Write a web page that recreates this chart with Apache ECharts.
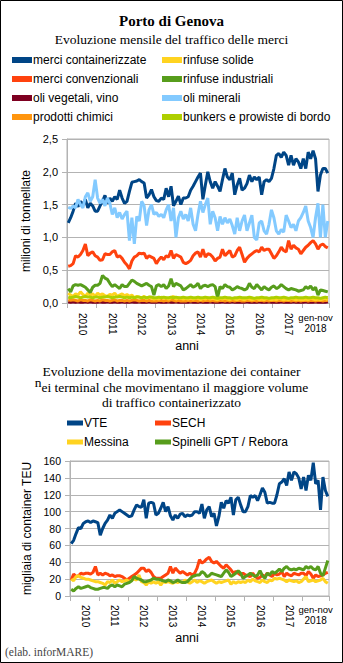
<!DOCTYPE html>
<html><head><meta charset="utf-8">
<script src="https://cdn.jsdelivr.net/npm/echarts@6/dist/echarts.min.js"></script>
<style>html,body{margin:0;padding:0;background:#fff}#c{width:343px;height:663px}</style>
</head><body><div id="c"></div>
<script>
// ---- tick labels ----
const yearLabels = ['2010','2011','2012','2013','2014','2015','2016','2017','gen-nov\n2018'];
const months = [];
for (let y = 2010; y <= 2018; y++) for (let m = 1; m <= 12; m++) { if (y === 2018 && m === 12) break; months.push(y + '-' + (m < 10 ? '0' + m : m)); }

// ---- top chart: milioni di tonnellate (gen 2010 - nov 2018) ----
const merciContainerizzate = [
1.22,1.30,1.40,1.52,1.47,1.55,1.50,1.58,1.45,1.52,1.48,1.40,
1.40,1.48,1.55,1.64,1.52,1.60,1.55,1.62,1.58,1.72,1.60,1.52,
1.55,1.70,1.84,1.85,1.86,1.88,1.85,1.83,1.60,1.65,1.73,1.62,
1.56,1.55,1.60,1.58,1.75,1.62,1.78,1.48,1.55,1.63,1.50,1.60,
1.60,1.62,1.72,1.78,1.85,1.92,1.98,1.58,1.80,2.00,1.85,1.75,
1.85,1.78,1.70,1.88,2.05,1.92,1.88,1.98,1.65,1.80,1.90,1.72,
1.75,1.82,1.95,1.85,1.92,1.88,1.92,1.65,1.85,1.88,1.85,1.90,
2.05,2.25,2.28,2.22,2.30,2.25,2.10,2.25,2.10,2.20,2.15,2.05,
2.20,2.05,2.30,2.20,2.32,2.20,1.70,1.95,2.05,2.05,1.98];
const merciConvenzionali = [
0.56,0.57,0.60,0.72,0.70,0.74,0.80,0.90,0.72,0.76,0.78,0.72,
0.70,0.65,0.66,0.75,0.74,0.74,0.78,0.80,0.70,0.72,0.68,0.62,
0.58,0.52,0.64,0.70,0.72,0.76,0.75,0.76,0.68,0.72,0.70,0.68,
0.60,0.66,0.70,0.66,0.72,0.70,0.80,0.68,0.74,0.72,0.70,0.62,
0.60,0.62,0.65,0.72,0.76,0.78,0.70,0.82,0.70,0.75,0.74,0.70,
0.64,0.68,0.70,0.82,0.72,0.76,0.80,0.70,0.72,0.80,0.85,0.74,
0.62,0.68,0.72,0.75,0.78,0.80,0.78,0.85,0.80,0.82,0.82,0.75,
0.68,0.72,0.78,0.85,0.80,0.78,0.95,0.82,0.88,0.84,0.82,0.75,
0.80,0.85,0.88,0.92,0.95,0.90,0.82,0.88,0.90,0.86,0.84];
const oliVegetali = [
0.02,0.01,0.02,0.01,0.02,0.01,0.01,0.02,0.01,0.02,0.01,0.01,
0.01,0.02,0.01,0.01,0.02,0.01,0.01,0.02,0.01,0.01,0.02,0.01,
0.01,0.01,0.02,0.01,0.01,0.02,0.01,0.01,0.01,0.02,0.01,0.01,
0.01,0.02,0.01,0.01,0.01,0.02,0.01,0.01,0.02,0.01,0.01,0.01,
0.01,0.01,0.02,0.01,0.01,0.01,0.02,0.01,0.01,0.01,0.02,0.01,
0.01,0.01,0.01,0.02,0.01,0.01,0.01,0.02,0.01,0.01,0.01,0.01,
0.01,0.02,0.01,0.01,0.01,0.01,0.02,0.01,0.01,0.01,0.02,0.01,
0.01,0.01,0.01,0.02,0.01,0.01,0.01,0.01,0.02,0.01,0.01,0.01,
0.01,0.02,0.01,0.01,0.01,0.02,0.01,0.01,0.01,0.01,0.02];
const prodottiChimici = [
0.05,0.04,0.05,0.04,0.03,0.05,0.04,0.04,0.03,0.05,0.04,0.03,
0.04,0.03,0.05,0.04,0.04,0.03,0.04,0.05,0.03,0.04,0.04,0.03,
0.04,0.03,0.04,0.05,0.04,0.03,0.04,0.04,0.03,0.04,0.03,0.03,
0.03,0.04,0.04,0.03,0.04,0.03,0.05,0.04,0.03,0.04,0.03,0.03,
0.03,0.04,0.03,0.04,0.04,0.03,0.04,0.03,0.04,0.04,0.03,0.04,
0.03,0.03,0.04,0.04,0.03,0.04,0.03,0.04,0.03,0.04,0.04,0.03,
0.03,0.04,0.04,0.03,0.04,0.03,0.04,0.04,0.03,0.04,0.03,0.04,
0.04,0.03,0.04,0.04,0.03,0.04,0.04,0.03,0.04,0.03,0.04,0.03,
0.04,0.04,0.03,0.04,0.04,0.03,0.04,0.04,0.03,0.04,0.04];
const rinfuseSolide = [
0.15,0.12,0.10,0.14,0.12,0.17,0.13,0.10,0.15,0.12,0.14,0.10,
0.15,0.12,0.14,0.11,0.10,0.13,0.12,0.15,0.10,0.12,0.14,0.11,
0.13,0.10,0.12,0.08,0.10,0.09,0.08,0.10,0.07,0.09,0.08,0.06,
0.07,0.06,0.09,0.07,0.08,0.06,0.08,0.10,0.06,0.08,0.07,0.06,
0.07,0.06,0.08,0.06,0.07,0.08,0.05,0.07,0.06,0.08,0.06,0.07,
0.06,0.05,0.07,0.06,0.08,0.06,0.05,0.07,0.06,0.05,0.07,0.06,
0.05,0.07,0.06,0.05,0.06,0.07,0.05,0.06,0.05,0.07,0.06,0.05,
0.06,0.05,0.07,0.06,0.05,0.06,0.05,0.07,0.06,0.05,0.06,0.05,
0.05,0.06,0.05,0.07,0.06,0.05,0.06,0.05,0.06,0.07,0.05];
const rinfuseIndustriali = [
0.22,0.17,0.26,0.28,0.27,0.28,0.26,0.24,0.20,0.16,0.24,0.27,
0.27,0.30,0.42,0.38,0.36,0.30,0.25,0.28,0.25,0.22,0.28,0.25,
0.25,0.30,0.35,0.33,0.30,0.28,0.26,0.28,0.30,0.27,0.25,0.12,
0.26,0.28,0.25,0.28,0.22,0.26,0.37,0.25,0.30,0.28,0.26,0.20,
0.22,0.25,0.28,0.24,0.26,0.30,0.22,0.26,0.27,0.25,0.27,0.28,
0.25,0.08,0.25,0.22,0.28,0.25,0.24,0.20,0.22,0.25,0.23,0.22,
0.20,0.22,0.30,0.24,0.22,0.28,0.24,0.20,0.25,0.22,0.20,0.24,
0.26,0.22,0.24,0.28,0.25,0.22,0.20,0.22,0.21,0.20,0.18,0.19,
0.20,0.25,0.22,0.26,0.20,0.24,0.12,0.20,0.19,0.18,0.17];
const oliMinerali = [
1.46,1.44,1.48,1.45,1.58,1.50,1.45,1.62,1.68,1.55,1.62,1.88,
1.60,1.52,1.58,1.48,1.60,1.52,1.35,1.45,1.30,1.38,1.28,1.35,
1.40,0.95,1.30,0.90,1.32,1.25,1.55,1.48,1.18,1.42,1.50,1.35,
1.38,1.32,1.35,1.30,1.42,1.50,1.25,1.45,1.00,1.30,1.40,1.28,
1.35,1.25,1.45,1.20,1.10,1.35,1.55,1.38,1.50,1.60,1.20,1.40,
1.30,1.10,1.32,1.20,1.30,1.22,1.28,1.18,1.05,1.30,1.10,1.25,
1.34,1.10,1.22,1.34,1.00,0.96,1.22,1.25,1.10,1.05,1.20,1.42,
1.30,1.10,1.05,1.12,1.08,1.34,1.25,1.15,1.20,1.10,1.25,1.30,
1.38,1.48,1.25,1.15,1.00,1.30,1.52,1.00,1.50,1.00,1.25];
const bunkers = [
0.09,0.08,0.09,0.10,0.09,0.08,0.09,0.10,0.09,0.09,0.08,0.09,
0.09,0.08,0.09,0.09,0.10,0.09,0.08,0.09,0.09,0.10,0.09,0.08,
0.09,0.08,0.09,0.08,0.09,0.09,0.08,0.09,0.08,0.09,0.09,0.08,
0.08,0.09,0.08,0.09,0.08,0.08,0.09,0.08,0.09,0.08,0.08,0.09,
0.08,0.08,0.09,0.08,0.08,0.09,0.08,0.08,0.09,0.08,0.08,0.09,
0.08,0.07,0.08,0.08,0.09,0.08,0.08,0.07,0.08,0.08,0.09,0.08,
0.08,0.08,0.09,0.08,0.07,0.08,0.08,0.09,0.08,0.08,0.07,0.08,
0.08,0.09,0.08,0.08,0.09,0.08,0.07,0.08,0.08,0.09,0.08,0.08,
0.08,0.09,0.08,0.08,0.09,0.08,0.08,0.07,0.08,0.09,0.08];

// ---- bottom chart: migliaia di TEU ----
const vte = [
62,66,74,81,80,86,88,89,87,89,88,87,
72,80,86,90,96,92,98,100,102,100,98,96,
94,95,102,108,106,105,114,92,110,111,110,96,
98,104,111,100,106,95,90,96,92,97,98,94,
96,95,96,100,100,98,109,92,102,106,94,98,
83,94,111,104,113,110,117,96,114,117,108,100,
100,106,119,117,119,113,120,128,123,110,111,110,
110,120,133,135,139,131,147,137,147,145,140,127,
141,125,143,137,158,133,137,102,141,125,118];
const sech = [
19,26,23,24,27,26,27,27,26,28,35,25,
27,25,27,26,24,25,23,24,24,23,21,19,
21,23,25,27,30,33,33,29,31,28,23,21,
21,21,23,25,27,35,27,33,30,27,29,27,
25,27,25,27,33,43,39,41,44,46,41,39,
41,38,35,33,37,34,31,27,29,27,25,27,
25,24,23,27,23,21,22,25,23,27,25,23,
27,25,26,29,23,27,25,24,27,26,25,27,
27,24,29,26,21,25,23,24,25,27,28];
const messina = [
20,18,23,24,22,21,20,20,19,18,17,17,
16,15,13,17,16,19,15,17,19,17,18,19,
17,19,20,19,25,17,16,13,17,15,17,15,
17,13,17,16,17,16,15,17,16,17,16,19,
17,15,17,19,16,18,17,15,17,18,19,17,
15,17,16,17,18,19,14,17,15,17,16,17,
16,19,17,20,18,17,16,19,17,16,19,18,
21,20,21,20,19,17,19,18,17,18,16,17,
20,23,17,18,19,17,18,19,21,17,15];
const spinelli = [
8,6,9,11,9,10,11,12,10,9,8,8,
9,10,10,9,12,13,11,13,12,11,14,15,
16,18,23,21,20,19,17,17,18,19,21,20,
20,19,18,17,19,18,16,17,19,17,16,16,
17,20,23,24,25,25,29,27,23,24,27,26,
25,24,23,27,31,28,23,25,27,30,27,21,
23,25,27,25,23,25,30,24,21,27,25,29,
27,29,32,29,33,35,32,31,32,31,33,32,
31,35,33,35,32,31,35,27,24,33,42];

const GRAY = '#b3b3b3';
const SANS = '"Liberation Sans", Arial, sans-serif';
const SERIF = '"Liberation Serif", "Times New Roman", serif';

function line(name, data, color, axisIdx) {
  return { name, type: 'line', data, xAxisIndex: axisIdx * 2, yAxisIndex: axisIdx,
    showSymbol: false, symbol: 'none', lineStyle: { width: 3, color }, itemStyle: { color },
    emphasis: { disabled: true }, animation: false };
}
function dataXAxis(grid, labelMargin) {
  return { type: 'category', gridIndex: grid, data: months, boundaryGap: true, position: 'bottom',
    axisLine: { lineStyle: { color: GRAY, width: 1 } },
    axisTick: { show: true, length: 5, interval: (i) => i % 12 === 0, lineStyle: { color: GRAY } },
    axisLabel: { rotate: -90, interval: (i) => i % 12 === 6 && i < 96, margin: labelMargin,
      formatter: (v, i) => yearLabels[Math.floor(i / 12)], fontSize: 10, color: '#000', fontFamily: SANS },
    splitLine: { show: false } };
}
function lastXAxis(grid, labelMargin) {
  return { type: 'category', gridIndex: grid, data: months, boundaryGap: true, position: 'bottom',
    axisLine: { show: false }, axisTick: { show: false },
    axisLabel: { rotate: 0, interval: (i) => i === 101, margin: labelMargin,
      formatter: () => yearLabels[8].split('\n').map((s, k) => k === 0 ? '{a|' + s + '}' : '{b|' + s + '}').join('\n'),
      rich: { a: { fontSize: 9.5, lineHeight: 11, fontFamily: SANS, color: '#000' },
              b: { fontSize: 10, lineHeight: 11, fontFamily: SANS, color: '#000' } } },
    splitLine: { show: false } };
}

const chart = echarts.init(document.getElementById('c'), null, { renderer: 'svg' });
chart.setOption({
  animation: false,
  backgroundColor: '#fff',
  title: [
    { text: 'Porto di Genova', left: 'center', top: 13, padding: 0,
      textStyle: { fontFamily: SERIF, fontWeight: 'bold', fontSize: 15, color: '#000' } },
    { text: 'Evoluzione mensile del traffico delle merci', left: 'center', top: 32, padding: 0,
      textStyle: { fontFamily: SERIF, fontWeight: 'normal', fontSize: 13.5, color: '#000' } },
    { text: 'Evoluzione della movimentazione dei container\n{sup|n}ei terminal che movimentano il maggiore volume\ndi traffico containerizzato',
      left: 'center', top: 364, padding: 0,
      textStyle: { fontFamily: SERIF, fontWeight: 'normal', fontSize: 13.5, lineHeight: 15.5, color: '#000',
        rich: { sup: { fontFamily: SERIF, fontSize: 13.5, height: 6, verticalAlign: 'top', color: '#000' } } } },
    { text: '(elab. inforMARE)', left: 5, top: 646, padding: 0,
      textStyle: { fontFamily: SERIF, fontWeight: 'normal', fontSize: 11.5, color: '#444' } }
  ],
  legend: [
    { orient: 'vertical', left: 12, top: 53, padding: 0, itemGap: 5, itemWidth: 20, itemHeight: 6, icon: 'rect',
      data: ['merci containerizzate', 'merci convenzionali', 'oli vegetali, vino', 'prodotti chimici'],
      textStyle: { fontFamily: SANS, fontSize: 12, color: '#000', lineHeight: 14, padding: [0, 0, 0, -4] }, selectedMode: false },
    { orient: 'vertical', left: 162, top: 53, padding: 0, itemGap: 5, itemWidth: 20, itemHeight: 6, icon: 'rect',
      data: ['rinfuse solide', 'rinfuse industriali', 'oli minerali', 'bunkers e prowiste di bordo'],
      textStyle: { fontFamily: SANS, fontSize: 12, color: '#000', lineHeight: 14, padding: [0, 0, 0, -4] }, selectedMode: false },
    { orient: 'vertical', left: 67, top: 416, padding: 0, itemGap: 5, itemWidth: 16, itemHeight: 5, icon: 'rect',
      data: ['VTE', 'Messina'],
      textStyle: { fontFamily: SANS, fontSize: 12, color: '#000', lineHeight: 14, padding: [0, 0, 0, -4] }, selectedMode: false },
    { orient: 'vertical', left: 155, top: 416, padding: 0, itemGap: 5, itemWidth: 16, itemHeight: 5, icon: 'rect',
      data: ['SECH', 'Spinelli GPT / Rebora'],
      textStyle: { fontFamily: SANS, fontSize: 12, color: '#000', lineHeight: 14, padding: [0, 0, 0, -4] }, selectedMode: false }
  ],
  grid: [
    { left: 67, right: 14, top: 139, height: 164, show: true, borderColor: GRAY, borderWidth: 1, containLabel: false },
    { left: 70, right: 14, top: 461, height: 135, show: true, borderColor: GRAY, borderWidth: 1, containLabel: false }
  ],
  xAxis: [
    Object.assign(dataXAxis(0, 10), { name: 'anni', nameLocation: 'middle', nameGap: 33,
      nameTextStyle: { fontFamily: SANS, fontSize: 12.5, color: '#000', padding: [0, 22, 0, 0] } }),
    lastXAxis(0, 9),
    Object.assign(dataXAxis(1, 9), { name: 'anni', nameLocation: 'middle', nameGap: 35,
      nameTextStyle: { fontFamily: SANS, fontSize: 12.5, color: '#000', padding: [0, 25, 0, 0] } }),
    lastXAxis(1, 8)
  ],
  yAxis: [
    { type: 'value', gridIndex: 0, min: 0, max: 2.5, interval: 0.5,
      name: 'milioni di tonnellate', nameLocation: 'middle', nameGap: 30,
      nameTextStyle: { fontFamily: SANS, fontSize: 12, color: '#000' },
      axisLine: { show: true, lineStyle: { color: GRAY } },
      axisTick: { show: true, length: 5, lineStyle: { color: GRAY } },
      axisLabel: { margin: 9, fontSize: 11, color: '#000', fontFamily: SANS, formatter: (v) => v.toFixed(1).replace('.', ',') },
      splitLine: { show: true, lineStyle: { color: GRAY, width: 1 } } },
    { type: 'value', gridIndex: 1, min: 0, max: 160, interval: 20,
      name: 'migliaia di container TEU', nameLocation: 'middle', nameGap: 36,
      nameTextStyle: { fontFamily: SANS, fontSize: 12, color: '#000' },
      axisLine: { show: true, lineStyle: { color: GRAY } },
      axisTick: { show: true, length: 5, lineStyle: { color: GRAY } },
      axisLabel: { margin: 9, fontSize: 10.5, color: '#000', fontFamily: SANS },
      splitLine: { show: true, lineStyle: { color: GRAY, width: 1 } } }
  ],
  graphic: [
    { type: 'rect', shape: { x: 0.5, y: 0.5, width: 342, height: 662 }, style: { fill: 'none', stroke: '#000', lineWidth: 1 }, silent: true, z: 100 }
  ],
  series: [
    line('merci containerizzate', merciContainerizzate, '#004586', 0),
    line('merci convenzionali', merciConvenzionali, '#ff420e', 0),
    line('oli vegetali, vino', oliVegetali, '#7e0021', 0),
    line('prodotti chimici', prodottiChimici, '#ff950e', 0),
    line('rinfuse solide', rinfuseSolide, '#ffd320', 0),
    line('rinfuse industriali', rinfuseIndustriali, '#579d1c', 0),
    line('oli minerali', oliMinerali, '#83caff', 0),
    line('bunkers e prowiste di bordo', bunkers, '#aecf00', 0),
    line('VTE', vte, '#004586', 1),
    line('SECH', sech, '#ff420e', 1),
    line('Messina', messina, '#ffd320', 1),
    line('Spinelli GPT / Rebora', spinelli, '#579d1c', 1)
  ]
});
</script></body></html>
